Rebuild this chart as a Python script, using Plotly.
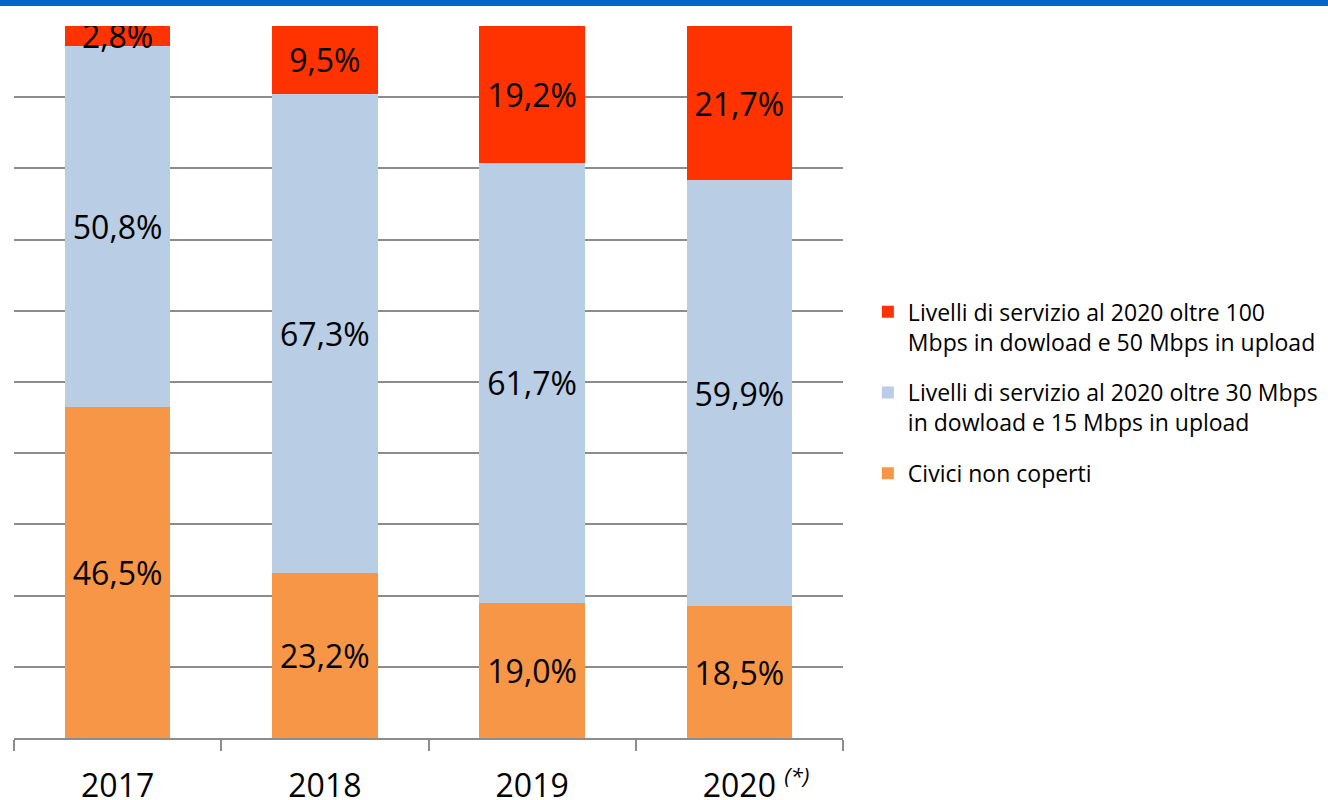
import plotly.graph_objects as go

years = ["2017", "2018", "2019", "2020"]
year_labels = ["2017", "2018", "2019", "&nbsp;&nbsp;&nbsp;&nbsp;2020 <sup><i>(*)</i></sup>"]
civici_non_coperti = [46.5, 23.2, 19.0, 18.5]
oltre_30 = [50.8, 67.3, 61.7, 59.9]
oltre_100 = [2.8, 9.5, 19.2, 21.7]

names = [
    "Civici non coperti",
    "Livelli di servizio al 2020 oltre 30 Mbps<br>in dowload e 15 Mbps in upload",
    "Livelli di servizio al 2020 oltre 100<br>Mbps in dowload e 50 Mbps in upload",
]
colors = ["#F79646", "#B9CDE5", "#FF3300"]
series = [civici_non_coperti, oltre_30, oltre_100]
legend_ranks = [3, 2, 1]

FONT = "Open Sans"


def fmt(v):
    return f"{v:.1f}%".replace(".", ",")


fig = go.Figure()
for i, (name, vals, col) in enumerate(zip(names, series, colors)):
    fig.add_trace(go.Bar(
        x=years, y=vals, name=name, legendgroup=f"g{i}",
        legendrank=legend_ranks[i],
        marker=dict(color=col, line=dict(width=0)),
        text=[fmt(v) for v in vals],
        textposition="inside",
        insidetextanchor="middle",
        textangle=0,
        constraintext="none",
        textfont=dict(family=FONT, size=32, color="black"),
    ))

fig.update_layout(
    width=1328, height=800,
    barmode="stack", barnorm="percent", bargap=0.49,
    paper_bgcolor="white", plot_bgcolor="white",
    margin=dict(l=14, r=485, t=26, b=62, autoexpand=False),
    uniformtext=dict(minsize=32, mode="show"),
    font=dict(family=FONT, color="black"),
    legend=dict(
        x=1.03, xanchor="left", y=0.485, yanchor="middle",
        traceorder="grouped",
        font=dict(family=FONT, size=23, color="black"),
        tracegroupgap=18,
        itemwidth=30,
        valign="top",
        bgcolor="rgba(0,0,0,0)",
    ),
    showlegend=True,
    shapes=[dict(
        type="rect", xref="paper", yref="paper",
        x0=-14 / 829, x1=(1328 - 14) / 829,
        y0=(738 - 6) / 712, y1=(738 + 2) / 712,
        fillcolor="#0066CC", line=dict(width=0), layer="above",
    )],
)

fig.update_xaxes(
    type="category",
    tickvals=years, ticktext=year_labels,
    tickson="boundaries",
    ticks="outside", ticklen=11, tickwidth=1.5, tickcolor="#8c8c8c",
    showline=True, linecolor="#8c8c8c", linewidth=1.5,
    showgrid=False, automargin=False,
    tickfont=dict(family=FONT, size=32, color="black"),
    ticklabelstandoff=19,
)
fig.update_yaxes(
    range=[0, 100], dtick=10, automargin=False,
    showgrid=True, gridcolor="#8c8c8c", gridwidth=1.5,
    showticklabels=False, zeroline=False, showline=False, ticks="",
)

fig.write_html(
    "out.html",
    config={"displayModeBar": False},
    post_script="document.body.style.margin='0px';document.body.style.overflow='hidden';",
)
